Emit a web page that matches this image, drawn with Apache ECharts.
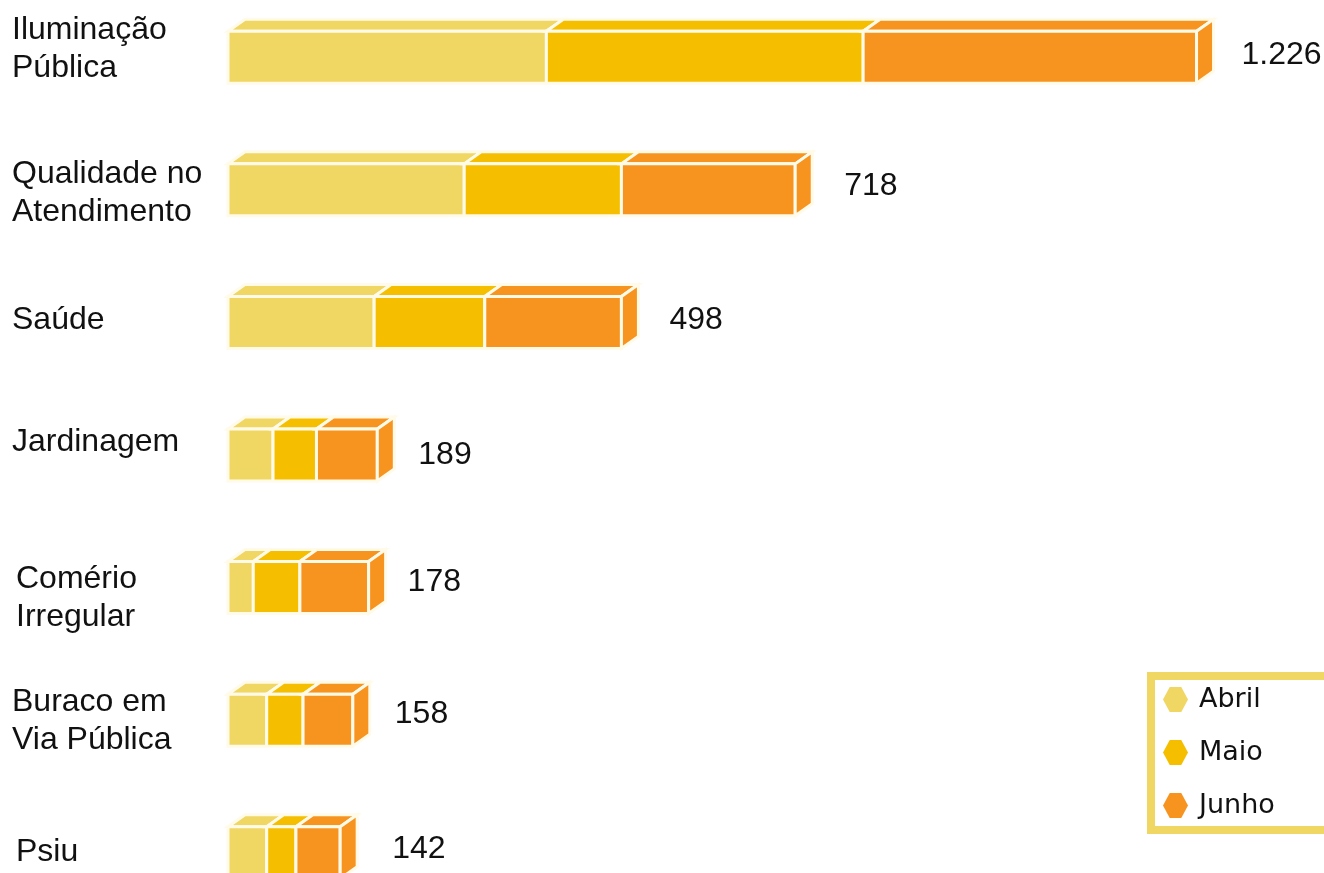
<!DOCTYPE html>
<html><head><meta charset="utf-8">
<style>html,body{margin:0;padding:0;background:#fff;overflow:hidden}#c{width:1324px;height:873px}</style>
<script src="https://cdn.jsdelivr.net/npm/echarts@6/dist/echarts.min.js"></script>
</head><body><div id="c"></div>
<script>
const categories = ['Iluminação\nPública','Qualidade no\nAtendimento','Saúde','Jardinagem','Comério\nIrregular','Buraco em\nVia Pública','Psiu'];
const months = ['Abril','Maio','Junho'];
const abril = [403,299,185,57,32,49,49];
const maio  = [401,199,140,55,59,46,37];
const junho = [422,220,173,77,87,63,56];
const totals = ['1.226','718','498','189','178','158','142'];
const colors = ['#f0d663','#f5bf00','#f79420'];

// label placement relative to each bar (layout only)
const catNudge = [[0,-8],[0,3],[0,-2.5],[0,-13],[4,11],[0,1],[4,-1]];
const valNudge = [[28,-2],[32,-4],[31,-2],[24,0],[22,-5],[25,-6],[35,-4]];
const DX = 17, DY = 12, STROKE = '#fffbe8';
const font = '32px "Liberation Sans", Arial, sans-serif';

const cols = [abril, maio, junho];
function rows(k){
  return categories.map((_, i) => {
    let s = 0;
    for (let j = 0; j < k; j++) s += cols[j][i];
    return [s, s + cols[k][i], i];
  });
}
function render(k){
  return function(params, api){
    const i = api.value(2);
    const a = api.coord([api.value(0), i]);
    const b = api.coord([api.value(1), i]);
    const h = api.size([0,1])[1] * 0.392;
    const top = a[1] - h/2, bot = a[1] + h/2, x0 = a[0], x1 = b[0];
    const style = {fill: colors[k], stroke: STROKE, lineWidth: 3};
    const kids = [
      {type:'polygon', shape:{points:[[x0,top],[x0+DX,top-DY],[x1+DX,top-DY],[x1,top]]}, style},
      {type:'rect', shape:{x:x0,y:top,width:x1-x0,height:h}, style}
    ];
    if (k === 0) {
      kids.push({type:'text', style:{text:categories[i], x:12+catNudge[i][0], y:a[1]+catNudge[i][1],
        font, fill:'#111', lineHeight:38, align:'left', verticalAlign:'middle'}});
    }
    if (k === 2) {
      kids.push({type:'polygon', shape:{points:[[x1,top],[x1+DX,top-DY],[x1+DX,bot-DY],[x1,bot]]}, style});
      kids.push({type:'text', style:{text:totals[i], x:x1+DX+valNudge[i][0], y:a[1]+valNudge[i][1],
        font, fill:'#111', align:'left', verticalAlign:'middle'}});
    }
    return {type:'group', children:kids};
  };
}
const chart = echarts.init(document.getElementById('c'), null, {renderer:'canvas'});
chart.setOption({
  animation:false,
  backgroundColor:'#fff',
  grid:{left:228, top:-9, width:1027, height:928, containLabel:false, outerBoundsMode:'none'},
  xAxis:{type:'value', min:0, max:1300, show:false},
  yAxis:{type:'category', inverse:true, data:categories, show:false},
  legend:{
    orient:'vertical', left:1151, top:676, itemWidth:25, itemHeight:26, itemGap:26,
    padding:[10,120,11,12], borderColor:'#f0d663', borderWidth:8,
    icon:'path://M7 0H19L26 13L19 26H7L0 13Z',
    textStyle:{fontFamily:'"DejaVu Sans"', fontSize:27, color:'#111', padding:[10,0,0,6]},
    data:months
  },
  series: months.map((m,k)=>({
    name:m, type:'custom', coordinateSystem:'cartesian2d', renderItem:render(k),
    itemStyle:{color:colors[k]}, encode:{x:[0,1], y:2}, data:rows(k), clip:false
  }))
});
</script></body></html>
